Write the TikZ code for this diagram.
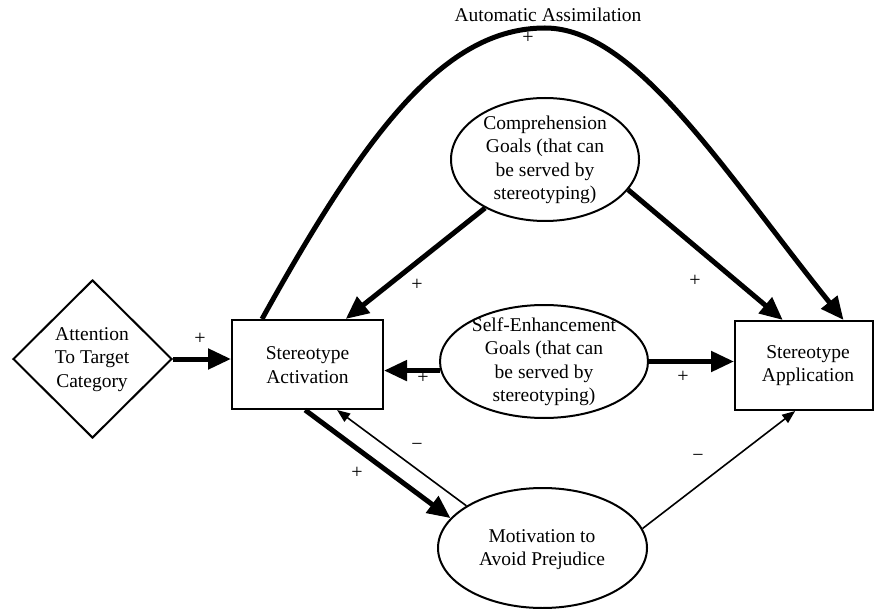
\documentclass[tikz,border=0pt]{standalone}
\usepackage{fontspec}
\setmainfont{Liberation Serif}
\usetikzlibrary{arrows.meta,shapes.geometric,calc}
\begin{document}
\begin{tikzpicture}[x=1pt,y=-1pt,
  box/.style={draw,line width=2pt,rectangle,inner sep=0pt},
  ell/.style={draw,line width=2pt,ellipse,inner sep=0pt},
  dia/.style={draw,line width=2pt,diamond,inner sep=0pt},
  txt/.style={align=center,inner sep=0pt,font=\fontsize{19.5}{23.5}\selectfont},
  sign/.style={inner sep=0pt,font=\fontsize{20}{23.5}\selectfont},
  strong/.style={line width=5pt,-{Triangle[length=23pt,width=20pt]}},
  weak/.style={line width=1.6pt,-{Triangle[length=13pt,width=10pt]}}
]
\useasboundingbox (0,0) rectangle (874,609);

% nodes
\node[dia,minimum width=159pt,minimum height=158pt] (att) at (92.5,359) {};
\node[txt] (attT) at (92,359.5) {Attention\\To Target\\Category};

\node[box,minimum width=151pt,minimum height=89pt] (act) at (307.5,364.5) {};
\node[txt] (actT) at (307.5,365) {Stereotype\\Activation};

\node[box,minimum width=138pt,minimum height=89pt] (app) at (804,365.5) {};
\node[txt] (appT) at (808,365.5) {Stereotype\\Application};

\node[ell,minimum width=188pt,minimum height=123pt] (comp) at (545,159.5) {};
\node[txt] (compT) at (545,160) {Comprehension\\Goals (that can\\be served by\\stereotyping)};

\node[ell,minimum width=208pt,minimum height=113pt] (self) at (544,361.5) {};
\node[txt] (selfT) at (544,361.5) {Self-Enhancement\\Goals (that can\\be served by\\stereotyping)};

\node[ell,minimum width=209pt,minimum height=120pt] (mot) at (542.5,548) {};
\node[txt] (motT) at (542,549.5) {Motivation to\\Avoid Prejudice};

\node[txt] (auto) at (548,15) {Automatic Assimilation};
\coordinate (peak) at (545,28);

% connectors
\draw[strong] (att.east) -- (att.east -| act.west);
\draw[strong] (comp.219) -- (act.50);
\draw[strong] (comp.340) -- (app.115);
\draw[strong] (act.135) .. controls (367,130) and (445,28) .. (peak)
  .. controls (635,28) and (723,170) .. (app.49);
\draw[strong] (self.185) -- (self.185 -| act.east);
\draw[strong] (self.east) -- (self.east -| app.west);
\draw[strong] (act.267) -- (mot.162);
\draw[weak] (mot.151) -- (act.303);
\draw[weak] (mot.11) -- (app.259);

% signs
\node[sign] (p1) at (200,339) {+};
\node[sign] (p2) at (528,38) {+};
\node[sign] (p3) at (417,285) {+};
\node[sign] (p4) at (695,281) {+};
\node[sign] (p5) at (423,378) {+};
\node[sign] (p6) at (683,377) {+};
\node[sign] (p7) at (357,473) {+};
\node[sign] (m1) at (417,447) {−};
\node[sign] (m2) at (698,458) {−};
\end{tikzpicture}
\end{document}
